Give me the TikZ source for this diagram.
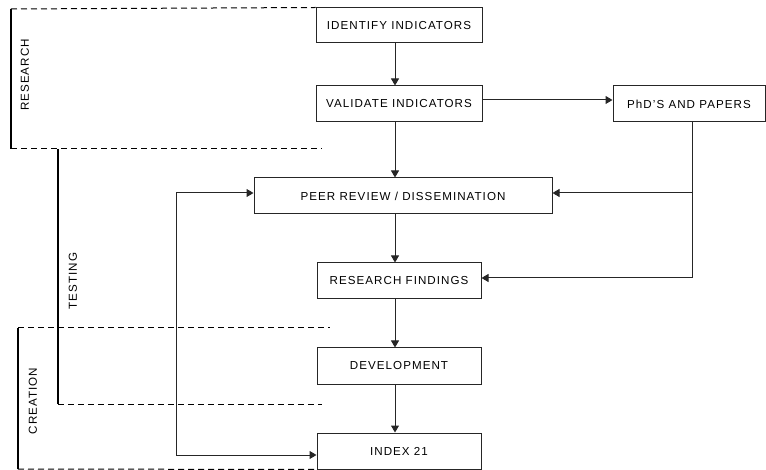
\documentclass[tikz,border=0pt]{standalone}
\usepackage{fontspec}
\setmainfont{Liberation Sans}[LetterSpace=9]
\usetikzlibrary{arrows.meta}
\begin{document}
\begin{tikzpicture}[x=1pt,y=-1pt,
  box/.style={draw=black!85,line width=1pt,inner sep=0pt,font=\fontsize{11.6}{13}\selectfont},
  flow/.style={draw=black!85,line width=1pt,-{Triangle[length=7pt,width=8pt]}},
  phase/.style={line width=2.5pt},
  sep/.style={line width=1pt,dash pattern=on 6pt off 4pt},
  lbl/.style={rotate=90,inner sep=0pt,font=\fontsize{11.6}{13}\selectfont}]
\useasboundingbox (0,0) rectangle (766,470);
% boxes
\node[box,minimum width=166pt,minimum height=35pt] (identify) at (399,25.5) {IDENTIFY INDICATORS};
\node[box,minimum width=166pt,minimum height=36pt] (validate) at (399,104) {VALIDATE INDICATORS};
\node[box,minimum width=152pt,minimum height=36pt] (phd) at (689,104) {PhD'S AND PAPERS};
\node[box,minimum width=298pt,minimum height=36pt] (peer) at (403,196) {PEER REVIEW / DISSEMINATION\hspace{14pt}};
\node[box,minimum width=164pt,minimum height=36pt] (findings) at (399,281) {RESEARCH FINDINGS};
\node[box,minimum width=164pt,minimum height=36pt] (dev) at (399,366) {DEVELOPMENT};
\node[box,minimum width=164pt,minimum height=36pt] (index) at (399,451) {INDEX 21};
% phase brackets
\coordinate (rt) at (11,9);
\coordinate (rb) at (11,149);
\coordinate (tb) at (58,404);
\coordinate (ct) at (18,328);
\coordinate (cb) at (18,469);
\draw[phase] (rt) -- (rb);
\draw[sep] (rt) -- (identify.north west);
\draw[sep] (rb) -- (322,149);
\draw[phase] (58,149) -- (tb);
\draw[sep] (tb) -- (322,404);
\draw[phase] (ct) -- (cb);
\draw[sep] (ct) -- (330,328);
\draw[sep] (cb) -- (index.south west);
\node[lbl] (lres) at (25,75) {RESEARCH};
\node[lbl] (ltest) at (73,281) {TESTING};
\node[lbl] (lcre) at (33,401) {CREATION};
% connectors
\draw[flow] ([xshift=-4pt]identify.south) -- ([xshift=-4pt]validate.north);
\draw[flow] ([yshift=4pt]validate.east) -- ([yshift=4pt]phd.west);
\draw[flow] ([xshift=-4pt]validate.south) -- ([xshift=-8pt]peer.north);
\draw[flow] ([xshift=3pt]phd.south) |- ([yshift=3pt]peer.east);
\draw[flow] ([xshift=3pt]phd.south) |- ([yshift=3pt]findings.east);
\draw[flow] ([xshift=-4pt]peer.south -| findings.north) -- ([xshift=-4pt]findings.north);
\draw[flow] ([xshift=-4pt]findings.south) -- ([xshift=-4pt]dev.north);
\draw[flow] ([xshift=-4pt]dev.south) -- ([xshift=-4pt]index.north);
\coordinate (lft) at (176,193);
\draw[flow,{Triangle[length=7pt,width=8pt]}-{Triangle[length=7pt,width=8pt]}] ([yshift=-4pt]index.west) -| (lft) -- ([yshift=3pt]peer.west);
\end{tikzpicture}
\end{document}
